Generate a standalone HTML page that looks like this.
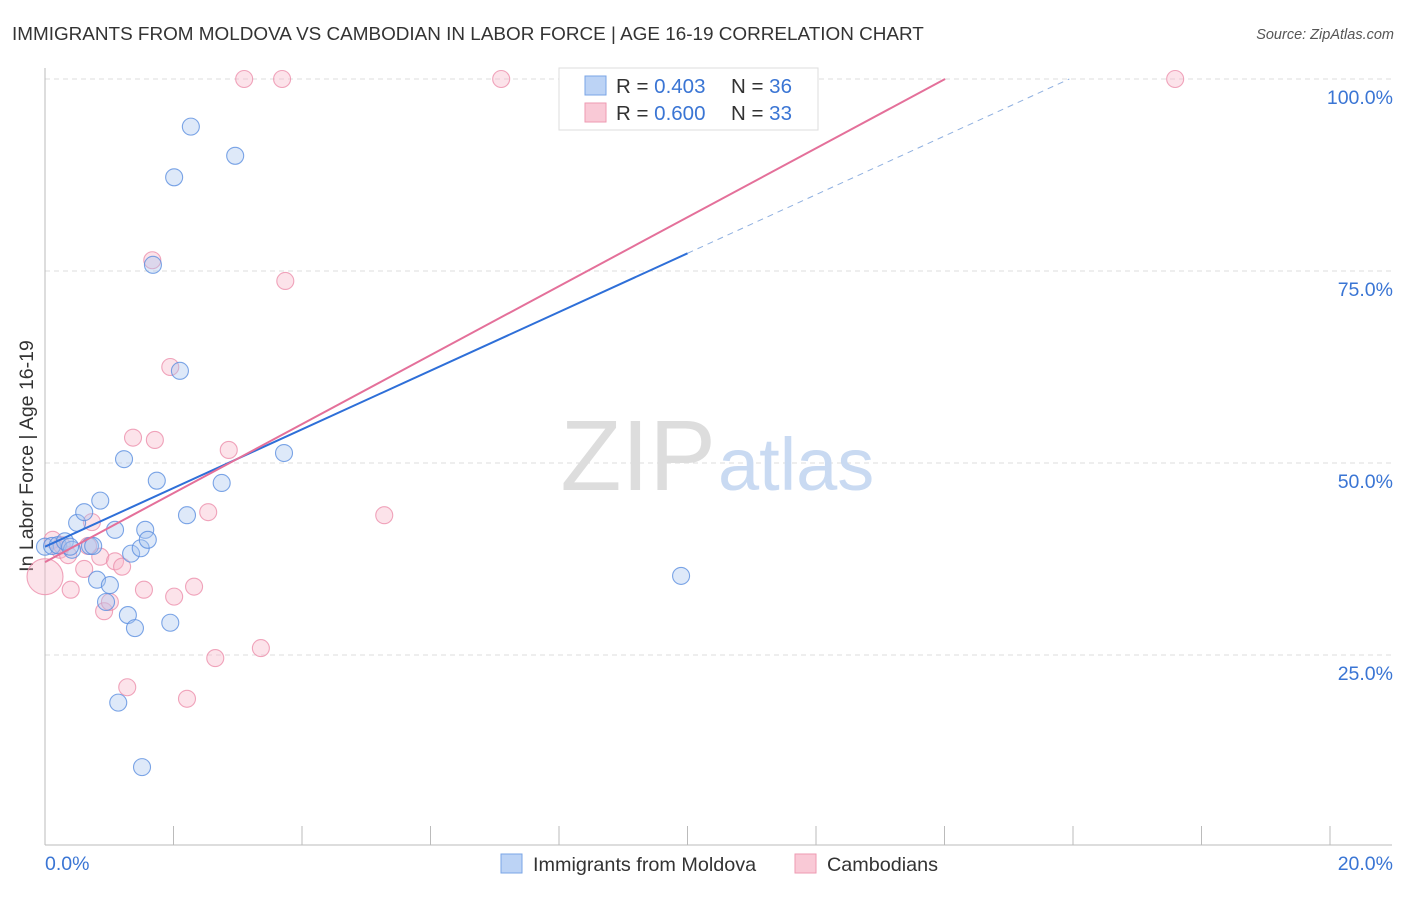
<!DOCTYPE html>
<html><head><meta charset="utf-8"><style>
body{margin:0;background:#fff;font-family:"Liberation Sans",sans-serif}
svg text{font-family:"Liberation Sans",sans-serif}
</style></head><body>
<svg width="1406" height="892">
<text x="12" y="40" font-size="18.9" fill="#333">IMMIGRANTS FROM MOLDOVA VS CAMBODIAN IN LABOR FORCE | AGE 16-19 CORRELATION CHART</text>
<text x="1394" y="39" font-size="14.5" fill="#555" font-style="italic" text-anchor="end">Source: ZipAtlas.com</text>
<g id="grid"></g>
<text x="716" y="490" font-size="100" fill="#ddd" text-anchor="end" font-family="Liberation Serif">ZIP</text>
<text x="718" y="490" font-size="74" fill="#c9daf2">atlas</text>
<text x="33" y="456" font-size="19.5" fill="#333" text-anchor="middle" transform="rotate(-90 33 456)">In Labor Force | Age 16-19</text>
<g id="pts"></g>
<g id="lines"></g>
<g>
<rect x="559" y="68" width="259" height="62" fill="#fff" stroke="#ddd"/>
<rect x="585" y="76" width="21" height="19" fill="#bcd3f5" stroke="#7aa5e6"/>
<rect x="585" y="103" width="21" height="19" fill="#f9c9d6" stroke="#ee9ab2"/>
<text x="616" y="93" font-size="20.5" fill="#333">R = <tspan fill="#3a75d4">0.403</tspan></text>
<text x="731" y="93" font-size="20.5" fill="#333">N = <tspan fill="#3a75d4">36</tspan></text>
<text x="616" y="120" font-size="20.5" fill="#333">R = <tspan fill="#3a75d4">0.600</tspan></text>
<text x="731" y="120" font-size="20.5" fill="#333">N = <tspan fill="#3a75d4">33</tspan></text>
</g>
<g>
<rect x="501" y="854" width="21" height="19" fill="#bcd3f5" stroke="#7aa5e6"/>
<text x="533" y="871" font-size="19.8" fill="#333">Immigrants from Moldova</text>
<rect x="795" y="854" width="21" height="19" fill="#f9c9d6" stroke="#ee9ab2"/>
<text x="827" y="871" font-size="19.8" fill="#333">Cambodians</text>
</g>
</svg>
<script>
const xTicks=[0,2,4,6,8,10,12,14,16,18,20];
const yTicks=[25,50,75,100];
const yTickLabels=["25.0%","50.0%","75.0%","100.0%"];
const xEndLabels=["0.0%","20.0%"];
const moldovaX=[0,0.11,0.2,0.31,0.42,0.5,0.61,0.7,0.75,0.81,0.86,0.95,1.01,1.09,1.23,1.29,1.34,1.4,1.49,1.56,1.6,1.68,1.74,1.95,2.01,2.1,2.21,2.27,2.75,2.96,3.72,9.9,1.14,1.51,9.32,0.39];
const moldovaY=[39.1,39.2,39.3,39.8,38.7,42.2,43.6,39.2,39.2,34.8,45.1,31.9,34.1,41.3,50.5,30.2,38.2,28.5,38.9,41.3,40,75.8,47.7,29.2,87.2,62,43.2,93.8,47.4,90,51.3,35.3,18.8,10.4,100,39.1];
const cambX=[0,0.12,0.23,0.36,0.4,0.61,0.73,0.86,0.92,1.01,1.09,1.2,1.28,1.37,1.54,1.67,1.71,1.95,2.01,2.21,2.32,2.54,2.65,2.86,3.1,3.36,3.69,3.74,5.28,7.1,17.59,0.67,0.26];
const cambY=[35.2,40,38.7,38,33.5,36.2,42.3,37.8,30.7,31.9,37.2,36.5,20.8,53.3,33.5,76.4,53,62.5,32.6,19.3,33.9,43.6,24.6,51.7,100,25.9,100,73.7,43.2,100,100,39.2,39.3];
const moldovaFit=[39.1,3.82];
const cambFit=[37.1,4.49];
const NS="http://www.w3.org/2000/svg";
const X=v=>45+v*64.25, Y=v=>847-v*7.68;
function mk(t,a,p){const e=document.createElementNS(NS,t);for(const k in a)e.setAttribute(k,a[k]);p.appendChild(e);return e;}
const g=document.getElementById('grid');
yTicks.forEach((t,i)=>{
 const l=mk('line',{x1:45,x2:1392,y1:Y(t),y2:Y(t),stroke:'#ddd','stroke-dasharray':'5,4'},g);
 
 
 const tx=mk('text',{x:1393,y:Y(t)+25,'font-size':19.5,fill:'#3a75d4','text-anchor':'end'},g);
 tx.textContent=yTickLabels[i];
 
 
});
const ax=mk('line',{x1:45,x2:45,y1:68,y2:845,stroke:'#bbb'},g);


const bx=mk('line',{x1:45,x2:1392,y1:845,y2:845,stroke:'#bbb'},g);


xTicks.forEach(t=>{
 const l=mk('line',{x1:X(t),x2:X(t),y1:826,y2:845,stroke:'#bbb'},g);
 
 
});
[[0,'start',45],[20,'end',1393]].forEach((d,i)=>{
 const tx=mk('text',{x:d[2],y:870,'font-size':19.5,fill:'#3a75d4','text-anchor':d[1]},g);
 tx.textContent=xEndLabels[i];
 
 
});
const p=document.getElementById('pts');
function dots(xs,ys,fill,stroke,name){xs.forEach((x,i)=>{
 const r=(x===0&&name==='cambodian-point'&&i===0)?18:8.5;
 const c=mk('circle',{cx:X(x),cy:Y(ys[i]),r:r,fill:fill,'fill-opacity':0.38,stroke:stroke,'stroke-width':1.1,'stroke-opacity':0.8},p);
 
 
});}
dots(cambX,cambY,'#f7b6c8','#ec8fab','cambodian-point');
dots(moldovaX,moldovaY,'#a9c6f0','#5b8fe0','moldova-point');
const L=document.getElementById('lines');
const l1=mk('line',{x1:X(0),y1:Y(moldovaFit[0]),x2:X(10),y2:Y(moldovaFit[0]+10*moldovaFit[1]),stroke:'#2e6fd8','stroke-width':2},L);


const xe=(100-moldovaFit[0])/moldovaFit[1];
const l2=mk('line',{x1:X(10),y1:Y(moldovaFit[0]+10*moldovaFit[1]),x2:X(xe),y2:Y(100),stroke:'#8fb0e0','stroke-width':1,'stroke-dasharray':'6,5'},L);


const xc=(100-cambFit[0])/cambFit[1];
const l3=mk('line',{x1:X(0),y1:Y(cambFit[0]),x2:X(xc),y2:Y(100),stroke:'#e4709a','stroke-width':2},L);


</script>
</body></html>
